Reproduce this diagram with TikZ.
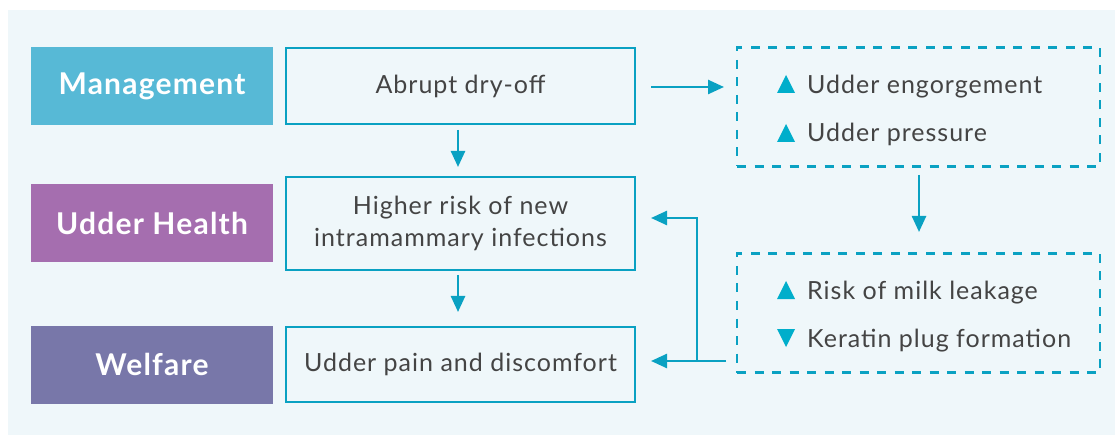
\documentclass[tikz,border=0pt]{standalone}
\usepackage{fontspec}
\setmainfont{Lato}
\newfontfamily\bodyfont[LetterSpace=4]{Lato}
\newfontfamily\labelfont[LetterSpace=4]{Lato Bold}
\usetikzlibrary{arrows.meta}
\definecolor{bgpanel}{HTML}{EFF7FA}
\definecolor{teal}{HTML}{0AA1C2}
\definecolor{tri}{HTML}{00AECB}
\definecolor{txt}{HTML}{444444}
\definecolor{cmgmt}{HTML}{57B9D6}
\definecolor{chealth}{HTML}{A56EAF}
\definecolor{cwelf}{HTML}{7877A9}
\tikzset{
  catbox/.style={minimum width=242pt, minimum height=78pt, inner sep=0pt, text=white, font=\labelfont\fontsize{30}{34}\selectfont},
  midbox/.style={draw=teal, line width=2.7pt, fill=bgpanel, minimum width=349pt, inner sep=0pt, text=txt, align=center, font=\bodyfont\fontsize{25}{32}\selectfont},
  dashbox/.style={draw=teal, line width=2.7pt, dash pattern=on 9pt off 8.5pt, minimum width=363pt, minimum height=119pt, inner sep=0pt},
  itemtxt/.style={text=txt, anchor=base west, font=\bodyfont\fontsize{25}{30}\selectfont, inner sep=0pt},
  conn/.style={draw=teal, line width=2.5pt, -{Triangle[length=16pt,width=14pt]}},
}
\begin{document}
\begin{tikzpicture}[x=1pt,y=-1pt]
\useasboundingbox (0,0) rectangle (1115,435);
\fill[bgpanel] (8,10) rectangle (1115,435);

% category labels
\node[catbox, fill=cmgmt] (mgmt) at (152,86) {Management};
\node[catbox, fill=chealth] (health) at (152,223) {Udder Health};
\node[catbox, fill=cwelf] (welf) at (152,364.5) {Welfare};

% middle boxes
\node[midbox, minimum height=76pt] (dry) at (460.5,86) {Abrupt dry-off};
\node[midbox, minimum height=93pt] (imi) at (460.5,223.5) {Higher risk of new\\intramammary infections};
\node[midbox, minimum height=75pt] (pain) at (460.5,364.5) {Udder pain and discomfort};

% dashed boxes
\node[dashbox] (eng) at (918.5,107) {};
\node[dashbox] (leak) at (918.5,313) {};

% items
\fill[tri] (777,93) -- (795,93) -- (786,75) -- cycle;
\node[itemtxt] (t1) at (807,94) {Udder engorgement};
\fill[tri] (777,142) -- (795,142) -- (786,124) -- cycle;
\node[itemtxt] (t2) at (807,142) {Udder pressure};
\fill[tri] (777,299) -- (795,299) -- (786,281) -- cycle;
\node[itemtxt] (t3) at (807,299) {Risk of milk leakage};
\fill[tri] (777,329) -- (795,329) -- (786,347) -- cycle;
\node[itemtxt] (t4) at (807,347) {Keratin plug formation};

% connectors
\coordinate (a1s) at (651,87);
\coordinate (a1e) at (724,87);
\draw[conn] (a1s) -- (a1e);
\coordinate (d1s) at (458,130);
\coordinate (d1e) at (458,167);
\draw[conn] (d1s) -- (d1e);
\coordinate (d2s) at (458,275);
\coordinate (d2e) at (458,312);
\draw[conn] (d2s) -- (d2e);
\coordinate (d3s) at (919,175);
\coordinate (d3e) at (919,232);
\draw[conn] (d3s) -- (d3e);
\coordinate (fb) at (726,361);
\coordinate (fbv) at (697,361);
\coordinate (fbt) at (697,218);
\coordinate (fbe) at (651,218);
\coordinate (fbp) at (651,361);
\draw[conn] (fb) -- (fbp);
\draw[conn] (fbv) -- (fbt) -- (fbe);
\end{tikzpicture}
\end{document}
